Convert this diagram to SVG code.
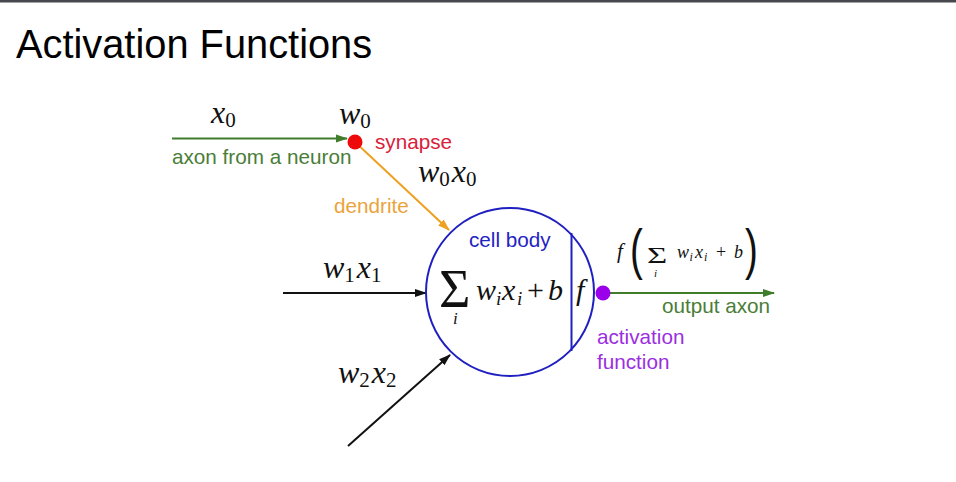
<svg xmlns="http://www.w3.org/2000/svg" width="956" height="482" viewBox="0 0 956 482">
<style>
.sans{font-family:"Liberation Sans",Arial,sans-serif;font-size:20.7px}
.m{font-family:"Liberation Serif","Times New Roman",serif;font-style:italic;fill:#111}
.big{font-size:32px}
.sub{font-size:21px;font-style:normal}
.up{font-style:normal}
.sig{font-family:"Liberation Serif","Times New Roman",serif;fill:#111}
.par{font-family:"Liberation Sans",Arial,sans-serif;font-size:55px;fill:#111}
.green{fill:#4a7d37}
.red{fill:#d9213a}
.orange{fill:#eba33b}
.blue{fill:#2323c4}
.purple{fill:#9b2ee0}
</style>
<defs>
<marker id="ahG" markerWidth="12" markerHeight="10" refX="11" refY="5" orient="auto" markerUnits="userSpaceOnUse"><path d="M0,1 L12,5 L0,9 Z" fill="#3f7d2a"/></marker>
<marker id="ahO" markerWidth="12" markerHeight="10" refX="11" refY="5" orient="auto" markerUnits="userSpaceOnUse"><path d="M0,1 L12,5 L0,9 Z" fill="#eea020"/></marker>
<marker id="ahK" markerWidth="12" markerHeight="10" refX="11" refY="5" orient="auto" markerUnits="userSpaceOnUse"><path d="M0,1 L12,5 L0,9 Z" fill="#111"/></marker>
</defs>
<rect x="0" y="0" width="956" height="482" fill="#fff"/>
<rect x="0" y="0" width="956" height="2.5" fill="#45484d"/>
<text x="16" y="58" font-family="'Liberation Sans',Arial,sans-serif" font-size="39.8" fill="#000">Activation Functions</text>

<g id="connectors" fill="none" stroke-width="2">
<line x1="172" y1="138.5" x2="347" y2="138.5" stroke="#3f7d2a" marker-end="url(#ahG)"/>
<line x1="355" y1="142" x2="449" y2="230" stroke="#eea020" marker-end="url(#ahO)"/>
<line x1="283" y1="293" x2="426" y2="293" stroke="#111" marker-end="url(#ahK)"/>
<line x1="348" y1="446" x2="450" y2="355" stroke="#111" marker-end="url(#ahK)"/>
<line x1="610" y1="293" x2="774" y2="293" stroke="#3f7d2a" marker-end="url(#ahG)"/>
</g>

<g id="input-axon">
<text class="m big" x="211" y="123">x<tspan class="sub" dy="4">0</tspan></text>
<text class="sans green" x="172" y="164">axon from a neuron</text>
</g>

<g id="synapse">
<circle cx="355" cy="142" r="7.5" fill="#ee0a0a"/>
<text class="m big" x="339" y="124">w<tspan class="sub" dy="4">0</tspan></text>
<text class="sans red" x="375" y="149">synapse</text>
</g>

<g id="dendrite">
<text class="m big" x="418" y="182">w<tspan class="sub" dy="4">0</tspan><tspan dx="2" dy="-4">x</tspan><tspan class="sub" dy="4">0</tspan></text>
<text class="sans orange" x="334" y="213">dendrite</text>
</g>

<g id="input-1">
<text class="m big" x="323" y="278">w<tspan class="sub" dy="4">1</tspan><tspan dx="2" dy="-4">x</tspan><tspan class="sub" dy="4">1</tspan></text>
</g>

<g id="input-2">
<text class="m big" x="338" y="383">w<tspan class="sub" dy="4">2</tspan><tspan dx="2" dy="-4">x</tspan><tspan class="sub" dy="4">2</tspan></text>
</g>

<g id="cell-body">
<circle cx="510" cy="292" r="84" fill="none" stroke="#2020c0" stroke-width="2"/>
<line x1="571.5" y1="233" x2="571.5" y2="351" stroke="#2020c0" stroke-width="2"/>
<text class="sans blue" x="469" y="247">cell body</text>
<text class="sig" x="439" y="307" style="font-size:54px">Σ<tspan class="m" x="453" y="324" style="font-size:17px">i</tspan></text>
<text class="m" y="300" style="font-size:30px"><tspan x="476">w</tspan><tspan x="496" dy="5" style="font-size:19px">i</tspan><tspan x="502" dy="-5">x</tspan><tspan x="517" dy="5" style="font-size:19px">i</tspan><tspan class="up" x="527" dy="-5">+</tspan><tspan x="548">b</tspan></text>
<text class="m" x="576" y="300" style="font-size:30px">f</text>
</g>

<g id="activation">
<circle cx="603" cy="293" r="7.5" fill="#9a00ea"/>
<text class="sans purple" x="597" y="344">activation</text>
<text class="sans purple" x="597" y="369">function</text>
</g>

<g id="output-axon">
<text class="m" x="617" y="258" style="font-size:21px">f</text>
<text class="par" transform="translate(630,268) scale(0.7,1)">(</text>
<text class="sig" transform="translate(647,263) scale(1.45,1)" style="font-size:24px">Σ</text>
<text class="m" x="654" y="277" style="font-size:11px">i</text>
<text class="m" y="258" style="font-size:18px"><tspan x="677">w</tspan><tspan x="689.5" dy="3" style="font-size:12px">i</tspan><tspan x="695" dy="-3">x</tspan><tspan x="704" dy="3" style="font-size:12px">i</tspan><tspan class="up" x="716" dy="-3">+</tspan><tspan x="734">b</tspan></text>
<text class="par" transform="translate(745,268) scale(0.7,1)">)</text>
<text class="sans green" x="770" y="313" text-anchor="end">output axon</text>
</g>
</svg>
